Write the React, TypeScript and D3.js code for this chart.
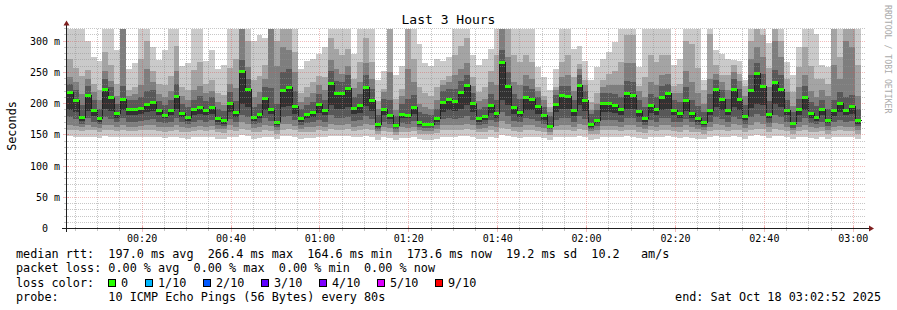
import React from "react";
import * as d3 from "d3";

const TITLE = "Last 3 Hours";
const Y_LABEL = "Seconds";
const WATERMARK = "RRDTOOL / TOBI OETIKER";
const yTickValues = [0, 50, 100, 150, 200, 250, 300];
const yTickLabels = ["0", "50 m", "100 m", "150 m", "200 m", "250 m", "300 m"];

// median rtt (ms) per 80 s step
const medianMs = [
  218, 205, 179, 213, 189.5, 176, 224, 211, 185, 207, 191.5, 191.5, 193, 198.5, 203, 189.5, 182, 189.5, 212, 185, 178, 190.5, 195, 189.5, 195, 177, 173, 201, 186, 252, 223, 178, 183,
  209, 192, 170, 221, 226, 196, 177, 183, 187, 199, 189, 233, 217, 217, 225, 193, 197, 227, 206, 167, 192, 181, 165, 184, 182, 194, 170, 168, 167, 176, 203, 208, 204,
  219, 229, 201, 177, 180, 197, 185, 266.4, 228, 195, 187, 211, 207, 196, 181, 164.6, 200, 213, 212, 189, 229, 205, 167, 174, 201, 201, 198, 192, 216, 213, 188, 176, 198, 192, 211, 216, 190, 185, 206, 185, 177,
  171, 190, 223, 207, 190, 224, 208, 180, 222, 249, 228, 184, 234.5, 223, 190, 169, 191, 210, 185.5, 178.5, 191, 174, 189, 201, 190, 195.5, 173.6,
];

// the 10 sorted ping rtts (ms) per step (ping 6 is the median)
const pingRows = [
  [148,158,165,178,190,218,232,242,272,320],[147,157,164,175,186,205,222,235,257,320],[146,156,162,168,172,179,198,215,244,320],[147,158,165,176,188,213,228,240,254,300],
  [146,157,163,171,180,189.5,205,218,232,275],[145,155,161,167,170,176,192,205,222,268],[148,158,166,178,192,224,240,252,282,320],[147,158,165,175,188,211,226,236,262,320],
  [146,156,162,170,177,185,200,212,232,285],[147,157,165,176,189,207,228,320,320,320],[146,156,163,171,182,191.5,205,212,222,255],[146,156,163,171,182,191.5,206,215,227,265],
  [147,157,164,172,183,193,210,230,272,320],[147,157,165,174,186,198.5,220,255,300,320],[147,158,165,175,188,203,222,235,252,290],[146,156,163,171,181,189.5,204,215,232,270],
  [145,155,162,169,176,182,198,210,230,285],[146,156,163,171,181,189.5,205,220,244,320],[147,158,166,177,191,212,232,252,292,320],[145,155,162,170,178,185,200,212,227,260],
  [144,154,161,167,172,178,194,205,222,265],[146,156,163,171,181,190.5,206,222,254,320],[147,157,164,173,184,195,212,228,267,320],[146,156,163,171,181,189.5,204,216,232,268],
  [147,157,164,173,184,195,210,220,237,285],[144,154,160,166,171,177,192,202,217,255],[143,153,159,164,168,173,188,198,214,262],[147,157,165,175,187,201,218,232,257,320],
  [146,156,162,170,178,186,204,225,272,320],[149,160,170,182,200,252,270,320,320,320],[148,158,167,178,194,223,240,258,300,320],[144,154,161,167,172,178,194,210,237,300],
  [145,155,162,169,176,183,200,218,244,310],
  [147,158,166,176,190,209,226,240,262,305],[146,156,164,172,183,192,225,320,320,320],[143,152,158,163,166,170,200,260,300,320],[148,158,167,178,194,221,250,290,320,320],
  [148,159,168,180,196,226,255,285,320,320],[147,157,164,173,184,196,220,250,282,320],[144,154,160,166,171,177,192,202,217,255],[145,155,162,169,176,183,198,210,227,268],
  [145,155,162,170,178,187,203,216,234,272],[147,157,164,173,185,199,215,230,244,280],[146,156,163,171,181,189,206,222,242,290],[148,159,168,181,198,233,252,270,305,320],
  [148,158,166,177,192,217,236,255,287,320],[148,158,166,177,192,217,234,248,277,320],[148,159,167,179,195,225,245,260,287,320],[146,156,163,172,183,193,210,225,240,280],
  [147,157,164,173,185,197,215,235,267,320],[148,159,168,180,196,227,246,265,305,320],[147,157,165,175,188,206,224,240,267,320],[142,151,156,160,163,167,182,192,204,238],
  [146,156,163,171,182,192,208,218,224,252],[145,155,161,168,175,181,205,250,320,320],[142,150,155,159,162,165,180,190,207,245],[145,155,162,169,177,184,200,212,224,260],
  [145,155,161,168,176,182,208,255,320,320],[146,156,163,172,183,194,214,235,272,320],[143,152,157,162,166,170,186,200,227,295],[142,151,156,161,164,168,183,195,217,265],
  [142,151,156,161,164,167,182,192,212,260],[144,153,160,165,170,176,192,205,227,272],[147,157,165,175,187,203,220,230,238,268],[147,158,165,176,190,208,224,235,244,275],
  [147,157,165,175,188,204,224,245,277,320],
  [148,158,166,177,192,219,236,255,292,320],[148,159,168,180,197,229,246,265,305,320],[147,157,165,174,186,201,216,228,242,278],[144,154,160,166,171,177,192,204,218,262],
  [144,154,161,167,173,180,195,208,227,272],[147,157,164,173,185,197,215,235,252,288],[145,155,162,170,177,185,205,230,277,320],[149,161,172,186,206,266.4,285,320,320,320],
  [148,159,168,180,197,228,250,275,320,320],[146,156,163,172,184,195,215,235,277,320],[145,155,162,170,179,187,207,230,267,320],[147,158,166,176,190,211,228,245,277,320],
  [147,157,165,175,189,207,224,240,267,320],[146,156,163,172,184,196,211,220,227,258],[145,154,161,168,174,181,195,205,212,242],[142,150,155,159,161,164.6,180,186,194,222],
  [147,157,164,174,186,200,214,222,227,255],[147,158,166,177,191,213,228,242,267,320],[147,158,166,177,191,212,228,245,277,320],[146,156,163,171,180,189,206,220,242,288],
  [148,159,168,180,197,229,245,255,264,292],[147,157,165,175,188,205,220,230,238,268],[142,151,156,160,163,167,183,190,202,238],[143,152,158,164,169,174,190,200,217,258],
  [147,157,164,174,186,201,216,226,238,272],[147,157,164,174,186,201,216,230,247,282],[147,157,164,173,185,198,215,230,252,298],[146,156,163,171,182,192,210,230,267,320],
  [148,158,166,177,192,216,236,265,310,320],[147,158,166,177,191,213,234,265,310,320],[145,155,162,170,179,188,205,220,228,258],[144,153,160,166,171,176,194,210,242,320],
  [147,157,164,173,185,198,215,235,277,320],[146,156,163,171,182,192,210,230,267,320],[147,158,166,176,190,211,228,245,277,320],[148,158,166,177,192,216,232,248,277,320],
  [146,156,163,171,181,190,206,216,228,262],[145,155,162,170,177,185,202,216,232,272],[147,157,165,175,188,206,226,252,300,320],[145,155,162,170,177,185,205,235,295,320],
  [144,154,160,166,171,177,196,216,257,320],
  [143,152,157,162,166,171,186,200,222,237],[146,156,163,171,181,190,215,240,312,320],[148,158,167,178,194,223,238,248,262,285],[147,157,165,175,189,207,222,234,246,280],
  [146,156,163,171,181,190,207,222,245,272],[148,158,167,178,194,224,240,250,262,270],[147,157,165,175,189,208,224,236,248,268],[144,154,161,167,173,180,198,212,228,237],
  [148,158,166,178,193,222,245,272,300,320],[149,160,170,183,200,249,265,290,320,320],[148,159,168,180,197,228,248,275,310,320],[145,155,162,169,176,184,204,226,257,296],
  [148,159,169,182,199,234.5,254,300,320,320],[148,158,167,178,194,223,245,275,300,320],[146,156,163,171,181,190,206,218,240,266],[143,151,157,161,165,169,186,196,218,245],
  [146,156,163,171,182,191,208,226,258,290],[147,158,166,176,190,210,228,246,290,320],[145,155,162,169,177,185.5,202,220,260,320],[144,154,161,167,172,178.5,196,210,240,312],
  [146,156,163,171,182,191,206,222,240,262],[143,152,158,164,169,174,192,212,232,258],[146,156,163,171,180,189,206,262,320,320],[147,157,164,174,186,201,218,240,275,320],
  [146,156,163,171,181,190,210,300,320,320],[146,156,163,172,184,195.5,214,290,320,320],[143,152,158,164,168,173.6,192,212,261,320],
];

const lossLabels = ["0", "1/10", "2/10", "3/10", "4/10", "5/10", "9/10"];
const lossColors = ["#26ff00", "#00b8ff", "#0059ff", "#5e00ff", "#7e00ff", "#dd00ff", "#ff0000"];
const lossBoxX = [108, 145, 203, 261, 319, 377, 435];

const legendMedian = "median rtt:  197.0 ms avg  266.4 ms max  164.6 ms min  173.6 ms now  19.2 ms sd  10.2   am/s";
const legendLoss = "packet loss: 0.00 % avg  0.00 % max  0.00 % min  0.00 % now";
const legendLossColor = "loss color:";
const legendProbe = "probe:       10 ICMP Echo Pings (56 Bytes) every 80s";
const legendEnd = "end: Sat Oct 18 03:02:52 2025";

const FONT = "'DejaVu Sans Mono', monospace";
const SHADES = ["#cacaca", "#a4a4a4", "#7e7e7e", "#585858", "#323232"];
const GRID = "rgba(143,143,143,0.5)";
const MGRID = "rgba(222,79,79,0.38)";
const nb = (s: string) => s.replace(/ /g, "\u00A0");

export default function App() {
  const tStart = new Date(2025, 9, 18, 0, 2, 52);
  const tEnd = new Date(2025, 9, 18, 3, 2, 52);
  const colStart = new Date(2025, 9, 18, 0, 3, 4).getTime();
  const STEP = 80000;
  const YMAX = 320;
  const x = d3.scaleTime().domain([tStart, tEnd]).range([66, 866]);
  const y = d3.scaleLinear().domain([0, YMAX]).range([228.5, 28.5]);
  const n = medianMs.length;
  const times = d3.range(n + 1).map((i) => new Date(colStart + i * STEP));
  const xr = (t: Date) => Math.round(x(t));
  const cl = (v: number) => Math.min(v, YMAX);

  const bandPaths = d3.range(5).map((k) => {
    const pts = d3.range(n + 1).map((i) => {
      const r = pingRows[Math.min(i, n - 1)];
      return { t: times[i], lo: r[k], hi: r[9 - k] };
    });
    return d3
      .area<any>()
      .x((d) => xr(d.t))
      .y0((d) => Math.round(y(cl(d.lo))))
      .y1((d) => Math.round(y(cl(d.hi))))
      .curve(d3.curveStepAfter)(pts);
  });

  const medPts = d3.range(n + 1).map((i) => ({ t: times[i], v: medianMs[Math.min(i, n - 1)] }));
  const medLine = d3
    .line<any>()
    .x((d) => xr(d.t) + 0.5)
    .y((d) => Math.round(y(d.v)) + 0.5)
    .curve(d3.curveStepAfter)(medPts);

  const gy = (v: number) => Math.round(y(v) - 0.5) + 0.5;
  const gx = (t: Date) => Math.round(x(t) - 0.5) + 0.5;
  const minorY = d3.range(10, YMAX + 1, 10).filter((v) => v % 50 !== 0);
  const majorY = d3.range(50, YMAX + 1, 50);
  const minorX = d3.timeMinute.every(5)!.range(tStart, tEnd).filter((t) => t.getMinutes() % 20 !== 0);
  const majorX = d3.timeMinute.every(20)!.range(tStart, tEnd);
  const fmt = d3.timeFormat("%H:%M");
  const top = 28.5;
  const bottom = 228.5;

  return (
    <svg width={897} height={310} style={{ display: "block", position: "absolute", left: 0, top: 0, background: "#fff" }}>
      <rect x={0} y={0} width={897} height={310} fill="#fff" />
      <g shapeRendering="crispEdges">
        {bandPaths.map((p, k) => (
          <path key={k} d={p || ""} fill={SHADES[k]} />
        ))}
      </g>
      <path d={medLine || ""} fill="none" stroke="#202020" strokeWidth={1} shapeRendering="crispEdges" />
      <g shapeRendering="crispEdges">
        {medianMs.map((m, i) => {
          const x0 = xr(times[i]);
          const x1 = xr(times[i + 1]);
          const yc = Math.round(y(m));
          return <rect key={i} x={x0} y={yc - 1} width={x1 - x0} height={3} fill={lossColors[0]} />;
        })}
      </g>
      <g shapeRendering="crispEdges" strokeWidth={1} strokeDasharray="1,1">
        {minorY.map((v) => (
          <line key={"my" + v} x1={66} x2={866} y1={gy(v)} y2={gy(v)} stroke={GRID} />
        ))}
        {minorX.map((t, i) => (
          <line key={"mx" + i} x1={gx(t)} x2={gx(t)} y1={top} y2={bottom} stroke={GRID} />
        ))}
        {majorY.map((v) => (
          <line key={"My" + v} x1={66} x2={866} y1={gy(v)} y2={gy(v)} stroke={MGRID} />
        ))}
        {majorX.map((t, i) => (
          <line key={"Mx" + i} x1={gx(t)} x2={gx(t)} y1={top} y2={bottom} stroke={MGRID} />
        ))}
      </g>
      <g shapeRendering="crispEdges" strokeWidth={1}>
        {minorY.map((v) => (
          <line key={"ty" + v} x1={64} x2={68} y1={gy(v)} y2={gy(v)} stroke={GRID} />
        ))}
        {majorY.map((v) => (
          <line key={"tY" + v} x1={63} x2={69} y1={gy(v)} y2={gy(v)} stroke={MGRID} />
        ))}
        {minorX.map((t, i) => (
          <line key={"tx" + i} x1={gx(t)} x2={gx(t)} y1={227} y2={231} stroke={GRID} />
        ))}
        {majorX.map((t, i) => (
          <line key={"tX" + i} x1={gx(t)} x2={gx(t)} y1={226} y2={232} stroke={MGRID} />
        ))}
      </g>
      <g shapeRendering="crispEdges">
        <line x1={62} x2={870} y1={228.5} y2={228.5} stroke="#1f1f1f" />
        <line x1={66.5} x2={66.5} y1={232} y2={24} stroke="#1f1f1f" />
      </g>
      <polygon points="869,225.5 874,228.5 869,231.5" fill="#7f1f1f" />
      <polygon points="63.5,25.5 66.5,20.5 69.5,25.5" fill="#7f1f1f" />
      <g fontFamily={FONT} fontSize={10} fill="#000">
        {yTickValues.map((v, i) => (
          <text key={v} x={v === 0 ? 48 : 60} y={y(v) + 3.6} textAnchor="end">
            {nb(yTickLabels[i])}
          </text>
        ))}
        {majorX.map((t, i) => (
          <text key={i} x={x(t)} y={241.5} textAnchor="middle">
            {fmt(t)}
          </text>
        ))}
      </g>
      <text x={448.5} y={24} textAnchor="middle" fontFamily={FONT} fontSize={13} fill="#000">
        {nb(TITLE)}
      </text>
      <text transform="translate(16,126) rotate(-90)" textAnchor="middle" fontFamily={FONT} fontSize={11.8} fill="#000">
        {Y_LABEL}
      </text>
      <text transform="translate(885,5) rotate(90)" fontFamily={FONT} fontSize={8.2} fill="#aaa">
        {nb(WATERMARK)}
      </text>
      <g fontFamily={FONT} fontSize={11.8} fill="#000">
        <text x={16} y={258}>{nb(legendMedian)}</text>
        <text x={16} y={272.3}>{nb(legendLoss)}</text>
        <text x={16} y={286.7}>{nb(legendLossColor)}</text>
        {lossLabels.map((l, i) => (
          <g key={l}>
            <rect x={lossBoxX[i] + 0.5} y={279.5} width={7} height={7} fill={lossColors[i]} stroke="#000" shapeRendering="crispEdges" />
            <text x={lossBoxX[i] + 13} y={286.7}>{l}</text>
          </g>
        ))}
        <text x={16} y={301}>{nb(legendProbe)}</text>
        <text x={881} y={301} textAnchor="end">{nb(legendEnd)}</text>
      </g>
    </svg>
  );
}
